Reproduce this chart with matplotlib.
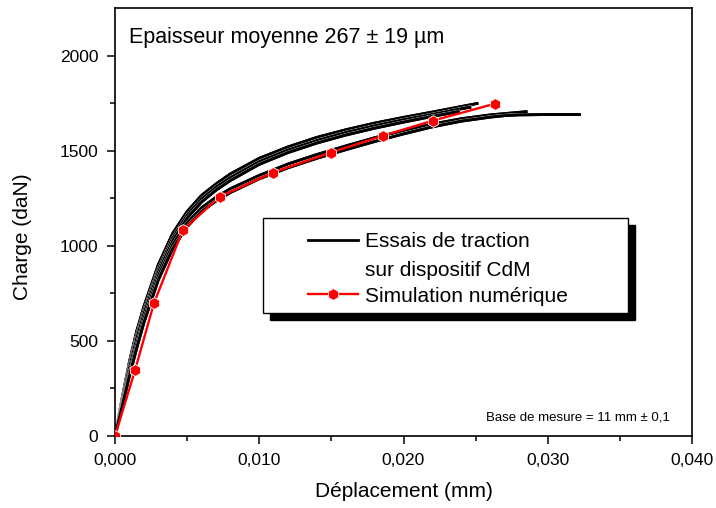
import numpy as np
import matplotlib
matplotlib.use("Agg")
import matplotlib.pyplot as plt
import matplotlib.patheffects as pe
from matplotlib.patches import Rectangle
from matplotlib.lines import Line2D

plt.rcParams['font.family'] = ['Liberation Sans', 'DejaVu Sans']

# Data : essais de traction (5 courbes) et simulation
x_u1 = [0, 0.0005, 0.001, 0.0015, 0.002, 0.003, 0.004, 0.005, 0.006, 0.007, 0.008, 0.010, 0.012, 0.014, 0.016, 0.018, 0.020, 0.022, 0.024, 0.0251]
y_u1 = [0, 200, 390, 550, 680, 900, 1065, 1180, 1265, 1325, 1378, 1460, 1520, 1570, 1610, 1645, 1675, 1703, 1732, 1748]
x_u2 = [0, 0.0005, 0.001, 0.0015, 0.002, 0.003, 0.004, 0.005, 0.006, 0.007, 0.008, 0.010, 0.012, 0.014, 0.016, 0.018, 0.020, 0.022, 0.024, 0.0246]
y_u2 = [0, 185, 370, 525, 655, 875, 1040, 1160, 1245, 1307, 1358, 1442, 1503, 1553, 1595, 1630, 1662, 1690, 1720, 1728]
x_u3 = [0, 0.0005, 0.001, 0.0015, 0.002, 0.003, 0.004, 0.005, 0.006, 0.007, 0.008, 0.010, 0.012, 0.014, 0.016, 0.018, 0.020, 0.022, 0.0238]
y_u3 = [0, 175, 355, 510, 640, 860, 1025, 1145, 1230, 1292, 1343, 1428, 1490, 1540, 1582, 1618, 1650, 1680, 1705]
x_l1 = [0, 0.0005, 0.001, 0.0015, 0.002, 0.003, 0.004, 0.005, 0.006, 0.007, 0.008, 0.010, 0.012, 0.014, 0.016, 0.018, 0.020, 0.022, 0.024, 0.026, 0.0285]
y_l1 = [0, 165, 330, 480, 615, 840, 1005, 1120, 1200, 1255, 1300, 1370, 1430, 1480, 1525, 1568, 1605, 1640, 1668, 1688, 1705]
x_l2 = [0, 0.0005, 0.001, 0.0015, 0.002, 0.003, 0.004, 0.005, 0.006, 0.007, 0.008, 0.010, 0.012, 0.014, 0.016, 0.018, 0.020, 0.022, 0.024, 0.026, 0.027, 0.028, 0.030, 0.0322]
y_l2 = [0, 155, 315, 460, 595, 820, 985, 1100, 1180, 1235, 1280, 1352, 1410, 1460, 1505, 1548, 1588, 1625, 1655, 1676, 1684, 1688, 1690, 1690]

x_sim = [0, 0.00139, 0.0027, 0.0047, 0.00728, 0.01095, 0.01497, 0.01858, 0.02205, 0.02634]
y_sim = [0, 346, 698, 1083, 1259, 1385, 1490, 1579, 1658, 1747]

x_ticks = [0, 0.01, 0.02, 0.03, 0.04]
x_labels = ["0,000", "0,010", "0,020", "0,030", "0,040"]
y_ticks = [0, 500, 1000, 1500, 2000]
y_labels = ["0", "500", "1000", "1500", "2000"]

fig = plt.figure(figsize=(7.16, 5.08), dpi=100)
ax = fig.add_axes([115 / 716, 1 - 436 / 508, 577 / 716, 428 / 508])

halo = [pe.withStroke(linewidth=2.6, foreground='white'), pe.Normal()]
essais = [(x_u1, y_u1), (x_u2, y_u2), (x_u3, y_u3), (x_l1, y_l1), (x_l2, y_l2)]
for xs, ys in essais:
    ax.plot(xs, ys, color='black', linewidth=2.0, path_effects=halo)

ax.plot(x_sim, y_sim, color='red', linewidth=1.7, marker='h', markersize=8.5,
        markerfacecolor='red', markeredgecolor='white', markeredgewidth=0.6, zorder=3)

ax.set_xlim(0, 0.040)
ax.set_ylim(0, 2250)
ax.set_xticks(x_ticks)
ax.set_xticklabels(x_labels)
ax.set_yticks(y_ticks)
ax.set_yticklabels(y_labels)
ax.set_xticks(np.arange(0.005, 0.040, 0.01), minor=True)
ax.set_yticks(np.arange(250, 2250, 500), minor=True)
ax.tick_params(which='both', direction='out', top=False, right=False, width=1.1, labelsize=12.5, pad=6)
ax.tick_params(which='major', length=6)
ax.tick_params(which='minor', length=3.5)
for s in ax.spines.values():
    s.set_linewidth(1.2)

ax.set_xlabel("Déplacement (mm)", fontsize=15)
ax.set_ylabel("Charge (daN)", fontsize=15)
ax.xaxis.set_label_coords(0.5, -0.108)
ax.yaxis.set_label_coords(-0.143, 0.465)

ax.text(0.024, 0.918, "Epaisseur moyenne 267 \u00b1 19 \u00b5m", transform=ax.transAxes,
        fontsize=15.5, ha='left', va='baseline')
ax.text(0.962, 0.036, "Base de mesure = 11 mm \u00b1 0,1", transform=ax.transAxes,
        fontsize=9.5, ha='right', va='baseline')

# Legende avec ombre
bx0, bx1, by0, by1 = 0.2565, 0.889, 0.2874, 0.5093
ax.add_patch(Rectangle((bx0 + 0.0121, by0 - 0.0164), bx1 - bx0, by1 - by0, transform=ax.transAxes,
                       facecolor='black', edgecolor='black', zorder=5))
ax.add_patch(Rectangle((bx0, by0), bx1 - bx0, by1 - by0, transform=ax.transAxes,
                       facecolor='white', edgecolor='black', linewidth=1.0, zorder=6))
ax.add_line(Line2D([0.3345, 0.4211], [0.458, 0.458], transform=ax.transAxes,
                   color='black', linewidth=2.0, zorder=7))
ax.add_line(Line2D([0.3345, 0.4211], [0.331, 0.331], transform=ax.transAxes,
                   color='red', linewidth=1.7, zorder=7))
ax.add_line(Line2D([0.3778], [0.331], transform=ax.transAxes, marker='h', markersize=8.5,
                   markerfacecolor='red', markeredgecolor='white', markeredgewidth=0.6, zorder=8))
ax.text(0.4333, 0.4409, "Essais de traction", transform=ax.transAxes, fontsize=15,
        va='baseline', zorder=8)
ax.text(0.4333, 0.3745, "sur dispositif CdM", transform=ax.transAxes, fontsize=15,
        va='baseline', zorder=8)
ax.text(0.4333, 0.3138, "Simulation numérique", transform=ax.transAxes, fontsize=15,
        va='baseline', zorder=8)

fig.savefig("out.png", dpi=100)
